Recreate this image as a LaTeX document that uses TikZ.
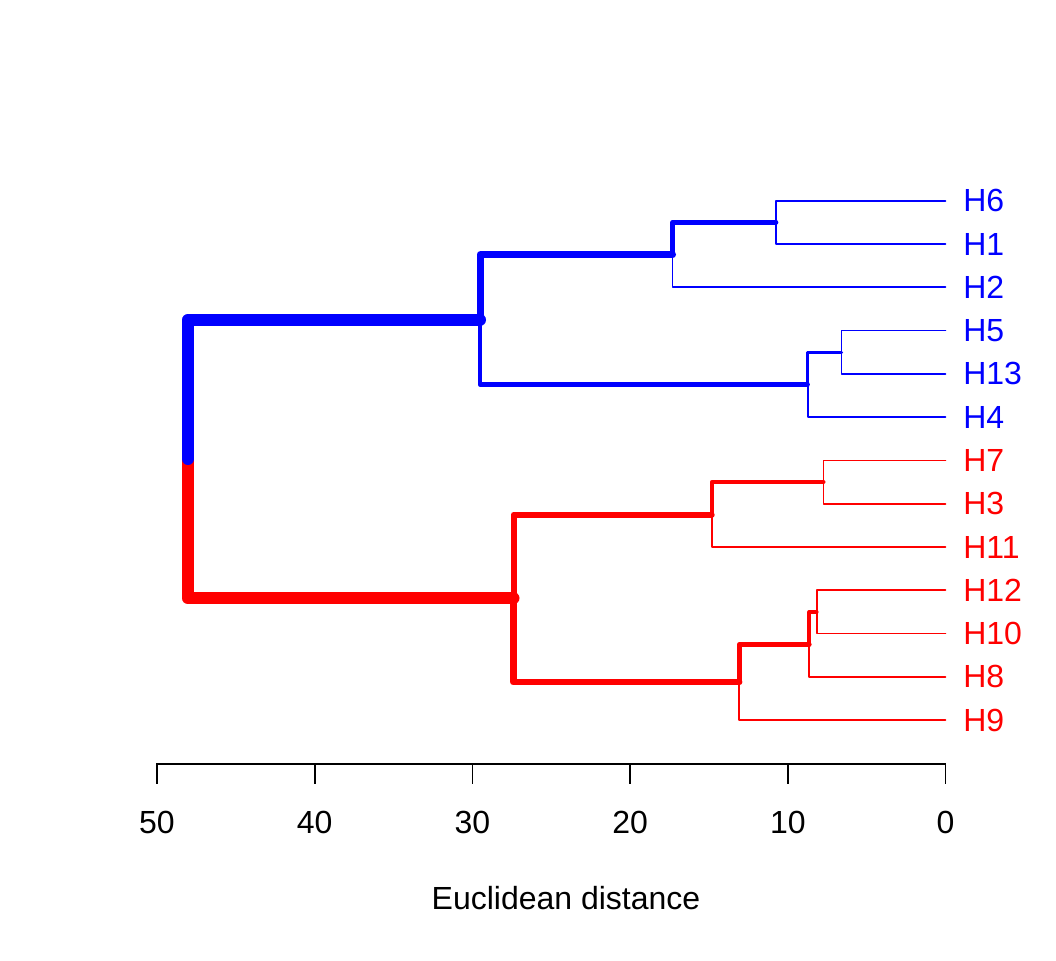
\documentclass[tikz,border=0pt]{standalone}
\usepackage{fontspec}
\setmainfont{Liberation Sans}
\definecolor{dblue}{RGB}{0,0,255}
\definecolor{dred}{RGB}{255,0,0}
\tikzset{
  edge/.style={line cap=round,line join=round},
  leafedge/.style={edge,line width=1.25pt},
  lab/.style={anchor=west,inner sep=0pt,font=\fontsize{24}{28}\selectfont},
  ticklab/.style={anchor=base,inner sep=0pt,font=\fontsize{24}{28}\selectfont},
  axisline/.style={black,line width=1.2pt,line cap=rect}
}
\begin{document}
\begin{tikzpicture}[x=0.75pt,y=-0.75pt]
\path[use as bounding box] (0,0) rectangle (1056,960);
% leaf ends
\coordinate (e6) at (945.5,200.7);
\coordinate (e1) at (945.5,244.0);
\coordinate (e2) at (945.5,287.3);
\coordinate (e5) at (945.5,330.5);
\coordinate (e13) at (945.5,373.8);
\coordinate (e4) at (945.5,417.1);
\coordinate (e7) at (945.5,460.4);
\coordinate (e3) at (945.5,503.7);
\coordinate (e11) at (945.5,547.0);
\coordinate (e12) at (945.5,590.2);
\coordinate (e10) at (945.5,633.5);
\coordinate (e8) at (945.5,676.8);
\coordinate (e9) at (945.5,720.1);
% internal nodes
\coordinate (A) at (776,222.3);
\coordinate (B) at (672.5,254.8);
\coordinate (C) at (841.5,352.2);
\coordinate (D) at (807.7,384.6);
\coordinate (E) at (480,319.7);
\coordinate (F) at (823.5,482.0);
\coordinate (G) at (711.7,514.5);
\coordinate (I) at (816.7,611.9);
\coordinate (J) at (809.3,644.3);
\coordinate (K) at (739.3,682.2);
\coordinate (L) at (513.5,598.4);
\coordinate (R) at (188,459.0);
% labels
\node[lab,text=dblue] (H6) at (963,200.7) {H6};
\node[lab,text=dblue] (H1) at (963,244.0) {H1};
\node[lab,text=dblue] (H2) at (963,287.3) {H2};
\node[lab,text=dblue] (H5) at (963,330.5) {H5};
\node[lab,text=dblue] (H13) at (963,373.8) {H13};
\node[lab,text=dblue] (H4) at (963,417.1) {H4};
\node[lab,text=dred] (H7) at (963,460.4) {H7};
\node[lab,text=dred] (H3) at (963,503.7) {H3};
\node[lab,text=dred] (H11) at (963,547.0) {H11};
\node[lab,text=dred] (H12) at (963,590.2) {H12};
\node[lab,text=dred] (H10) at (963,633.5) {H10};
\node[lab,text=dred] (H8) at (963,676.8) {H8};
\node[lab,text=dred] (H9) at (963,720.1) {H9};
% red cluster
\draw[edge,dred,line width=9pt] (R) |- (L);
\draw[edge,dred,line width=4.5pt] (L) |- (G);
\draw[edge,dred,line width=4.7pt] (L) |- (K);
\draw[edge,dred,line width=3pt] (G) |- (F);
\draw[leafedge,dred] (G) |- (e11);
\draw[leafedge,dred] (F) |- (e7);
\draw[leafedge,dred] (F) |- (e3);
\draw[edge,dred,line width=3.5pt] (K) |- (J);
\draw[leafedge,dred] (K) |- (e9);
\draw[edge,dred,line width=2.8pt] (J) |- (I);
\draw[leafedge,dred] (J) |- (e8);
\draw[leafedge,dred] (I) |- (e12);
\draw[leafedge,dred] (I) |- (e10);
% blue cluster
\draw[edge,dblue,line width=9pt] (R) |- (E);
\draw[edge,dblue,line width=5.25pt] (E) |- (B);
\draw[edge,dblue,line width=3.2pt] (E) |- (D);
\draw[edge,dblue,line width=3.5pt] (B) |- (A);
\draw[leafedge,dblue] (B) |- (e2);
\draw[leafedge,dblue] (A) |- (e6);
\draw[leafedge,dblue] (A) |- (e1);
\draw[edge,dblue,line width=2.5pt] (D) |- (C);
\draw[leafedge,dblue] (D) |- (e4);
\draw[leafedge,dblue] (C) |- (e5);
\draw[leafedge,dblue] (C) |- (e13);
% axis
\coordinate (a50) at (157,764);
\coordinate (a0) at (945.5,764);
\draw[axisline] (a50) -- (a0);
\foreach \v/\xx in {50/157,40/314.7,30/472.4,20/630.1,10/787.8,0/945.5}{
  \coordinate (t\v) at (\xx,764);
  \coordinate (b\v) at (\xx,783);
  \draw[axisline] (t\v) -- (b\v);
  \node[ticklab] (tl\v) at (\xx,833) {\v};
}
\node[ticklab] (xlab) at (566,909) {Euclidean distance};
\end{tikzpicture}
\end{document}
